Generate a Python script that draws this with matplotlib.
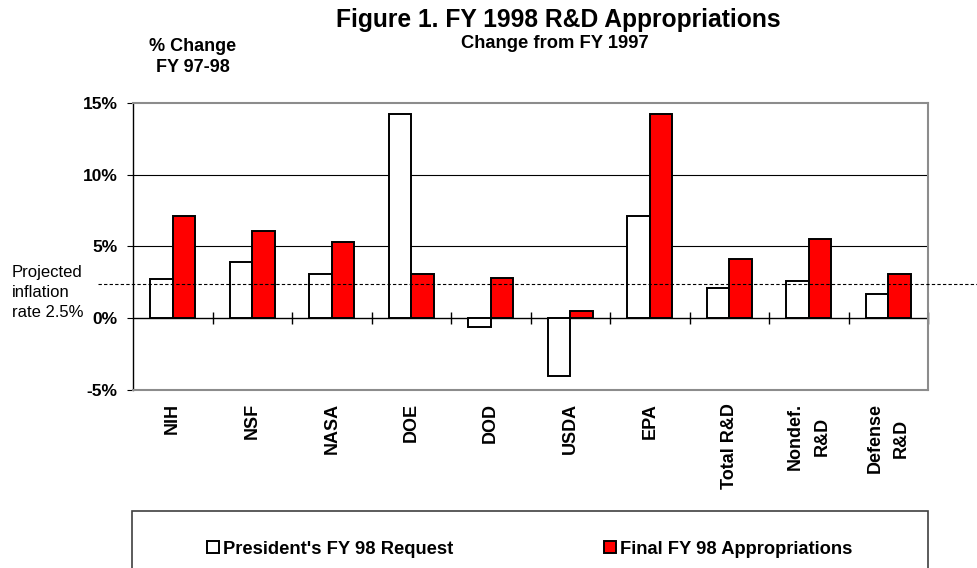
import numpy as np
import matplotlib
matplotlib.use("Agg")
import matplotlib.pyplot as plt
import matplotlib.transforms as mtransforms
from matplotlib.patches import Rectangle

plt.rcParams['font.family'] = ['Liberation Sans', 'DejaVu Sans']

# Data (% change FY 97-98)
agencies = ['NIH', 'NSF', 'NASA', 'DOE', 'DOD', 'USDA', 'EPA',
            'Total R&D', 'Nondef.\nR&D', 'Defense\nR&D']
request = [2.7, 3.9, 3.1, 14.2, -0.6, -4.0, 7.1, 2.1, 2.6, 1.7]
final = [7.1, 6.1, 5.3, 3.1, 2.8, 0.5, 14.2, 4.1, 5.5, 3.1]
inflation = 2.4
y_ticks = [-5, 0, 5, 10, 15]
y_labels = ['-5%', '0%', '5%', '10%', '15%']
series_names = ["President's FY 98 Request", 'Final FY 98 Appropriations']

W, H = 977, 568
fig = plt.figure(figsize=(W / 100, H / 100), dpi=100)
ax = fig.add_axes([133 / W, 1 - 390 / H, (928 - 133) / W, (390 - 102.7) / H])

# Bars
x = np.arange(len(agencies))
w = 0.286
b1 = ax.bar(x - w / 2, request, w, color='white', edgecolor='black', lw=1.4, zorder=3)
b2 = ax.bar(x + w / 2, final, w, color='#ff0000', edgecolor='black', lw=1.4, zorder=3)

ax.set_xlim(-0.5, len(agencies) - 0.5)
ax.set_ylim(-5, 15)

# Grid, zero line and category separators
for v in [5, 10]:
    ax.axhline(v, color='black', lw=0.8, zorder=1)
ax.axhline(0, color='black', lw=1, zorder=2)
ax.vlines(x + 0.5, -0.42, 0.42, color='black', lw=1, zorder=2, clip_on=False)

# Projected inflation line (runs past the axes)
trans = mtransforms.blended_transform_factory(ax.transAxes, ax.transData)
ax.plot([-0.044, 1.07], [inflation, inflation], transform=trans, ls=(0, (3, 2)),
        color='black', lw=0.8, clip_on=False, zorder=5)

# Spines
for s in ['top', 'right', 'bottom']:
    ax.spines[s].set_color('#8c8c8c')
    ax.spines[s].set_linewidth(1.5)
ax.spines['left'].set_color('black')
ax.spines['left'].set_linewidth(1)

# Ticks
ax.set_yticks(y_ticks)
ax.set_yticklabels(y_labels, fontweight='bold', fontsize=12.5)
ax.tick_params(axis='y', direction='out', length=4.3, width=0.8, pad=6.8)
ax.set_xticks(x)
ax.set_xticklabels(agencies, rotation=90, fontweight='bold', fontsize=13,
                   linespacing=1.7, ha='center', va='top', multialignment='center')
ax.tick_params(axis='x', length=0, pad=9.5)

# Titles and side notes
fig.text(558 / W, 1 - 26.7 / H, 'Figure 1. FY 1998 R&D Appropriations',
         ha='center', va='baseline', fontsize=17.7, fontweight='bold')
fig.text(555 / W, 1 - 48.3 / H, 'Change from FY 1997',
         ha='center', va='baseline', fontsize=13.2, fontweight='bold')
fig.text(193 / W, 1 - 50.7 / H, '% Change', ha='center', va='baseline',
         fontsize=13, fontweight='bold')
fig.text(193 / W, 1 - 71.7 / H, 'FY 97-98', ha='center', va='baseline',
         fontsize=13, fontweight='bold')
for line, yb in zip(['Projected', 'inflation', 'rate 2.5%'], [276.7, 296.7, 317]):
    fig.text(11.5 / W, 1 - yb / H, line, ha='left', va='baseline', fontsize=12)

# Legend with its box running off the bottom
fig.add_artist(Rectangle((132 / W, -0.1), (928 - 132) / W, 0.1 + (568 - 511) / H,
                         transform=fig.transFigure, fill=False, ec='#404040', lw=1.2))
fig.legend(handles=[b1, b2], labels=series_names, ncol=2, loc='center',
           bbox_to_anchor=(529.5 / W, 1 - 549 / H), frameon=False,
           prop=dict(weight='bold', size=13.2), handlelength=0.66, handleheight=0.66,
           handletextpad=0.22, columnspacing=8.2)

fig.savefig('out.png', dpi=100)
